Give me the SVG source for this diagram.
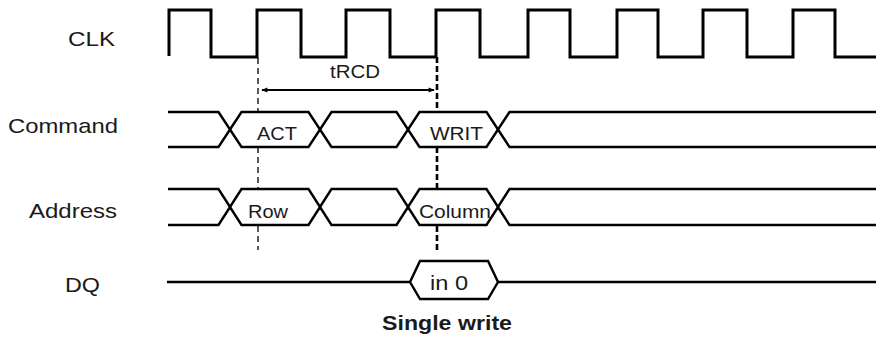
<svg xmlns="http://www.w3.org/2000/svg" width="876" height="337" viewBox="0 0 876 337">
<style>
.lbl{font-family:"Liberation Sans",Arial,sans-serif;font-size:21px;fill:#1a1a1a}
.cell{font-family:"Liberation Sans",Arial,sans-serif;font-size:18px;fill:#1a1a1a}
.sig{fill:none;stroke:#000;stroke-linejoin:miter}
.clk{stroke-width:3}
.bus{stroke-width:2.4}
.dash1{stroke:#000;stroke-width:1.3;stroke-dasharray:6 4;fill:none}
.dash2{stroke:#000;stroke-width:2.6;stroke-dasharray:6 3;fill:none}
</style>
<defs>
<marker id="ah" viewBox="0 0 10 10" refX="9" refY="5" markerWidth="10" markerHeight="6" orient="auto-start-reverse" markerUnits="userSpaceOnUse">
<path d="M0,1 L10,5 L0,9 Z" fill="#000"/>
</marker>
</defs>
<g id="labels">
<text class="lbl" x="68" y="46" textLength="47" lengthAdjust="spacingAndGlyphs">CLK</text>
<text class="lbl" x="8" y="133" textLength="110" lengthAdjust="spacingAndGlyphs">Command</text>
<text class="lbl" x="29" y="218" textLength="88" lengthAdjust="spacingAndGlyphs">Address</text>
<text class="lbl" x="65" y="292" textLength="35" lengthAdjust="spacingAndGlyphs">DQ</text>
</g>
<g id="clk">
<path class="sig clk" d="M169,56 V10 H211 V57 H257 V10 H301 V57 H346 V10 H390 V57 H436 V10 H480 V57 H528 V10 H570 V57 H617 V10 H658 V57 H703 V10 H747 V57 H793 V10 H835 V57 H876"/>
</g>
<g id="command">
<path class="sig bus" d="M168,112 H218.5 L230,129.5 L241.5,112 H308.5 L320,129.5 L331.5,112 H396.5 L408,129.5 L419.5,112 H486.5 L498,129.5 L509.5,112 H876"/>
<path class="sig bus" d="M168,147 H218.5 L230,129.5 L241.5,147 H308.5 L320,129.5 L331.5,147 H396.5 L408,129.5 L419.5,147 H486.5 L498,129.5 L509.5,147 H876"/>
<text class="cell" x="257" y="140" textLength="40" lengthAdjust="spacingAndGlyphs">ACT</text>
<text class="cell" x="430" y="140" textLength="53" lengthAdjust="spacingAndGlyphs">WRIT</text>
</g>
<g id="address">
<path class="sig bus" d="M168,189 H218.5 L230,207 L241.5,189 H308.5 L320,207 L331.5,189 H396.5 L408,207 L419.5,189 H486.5 L498,207 L509.5,189 H876"/>
<path class="sig bus" d="M168,225 H218.5 L230,207 L241.5,225 H308.5 L320,207 L331.5,225 H396.5 L408,207 L419.5,225 H486.5 L498,207 L509.5,225 H876"/>
<text class="cell" x="248" y="218" textLength="40" lengthAdjust="spacingAndGlyphs">Row</text>
<text class="cell" x="419" y="218" textLength="72" lengthAdjust="spacingAndGlyphs">Column</text>
</g>
<g id="dq">
<path class="sig bus" d="M167,282 H410 L420,261 H488 L498,282 L488,299 H420 L410,282 M498,282 H876"/>
<text class="lbl" x="430" y="290" textLength="38" lengthAdjust="spacingAndGlyphs">in 0</text>
</g>
<g id="connectors">
<path class="dash1" d="M258,58 V112 M258,147 V189 M258,226 V250"/>
<path class="dash2" d="M437,57 V112 M437,147 V189 M437,226 V252"/>
<line x1="262" y1="90" x2="434" y2="90" stroke="#000" stroke-width="2.2" marker-start="url(#ah)" marker-end="url(#ah)"/>
<text class="cell" x="330" y="78" textLength="50" lengthAdjust="spacingAndGlyphs">tRCD</text>
</g>
<g id="caption">
<text class="lbl" x="382" y="330" font-weight="bold" textLength="130" lengthAdjust="spacingAndGlyphs">Single write</text>
</g>
</svg>
